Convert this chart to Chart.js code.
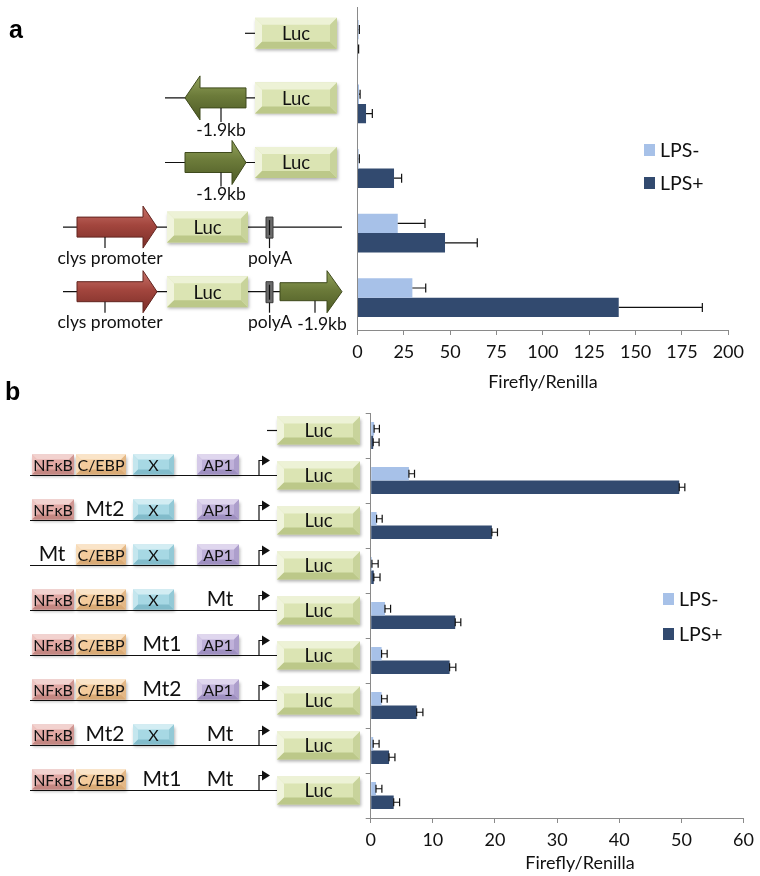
<!DOCTYPE html>
<html lang="en">
<head>
<meta charset="UTF-8">
<title>Luciferase reporter constructs</title>
<script src="https://cdn.jsdelivr.net/npm/chart.js"></script>
<style>
  html, body { margin: 0; padding: 0; background: #fff; }
  body { width: 760px; height: 876px; position: relative; overflow: hidden; }
  .panel { position: absolute; left: 0; width: 760px; }
  #panelA { top: 0; height: 395px; }
  #panelB { top: 395px; height: 481px; }
  .letter { position: absolute; z-index: 2; line-height: 1; font: bold 25px 'Liberation Sans', Arial, sans-serif; }
</style>
</head>
<body>
<div class="letter" style="left:9px;top:15px">a</div>
<div class="letter" style="left:5px;top:377px">b</div>
<div id="panelA" class="panel"><canvas id="chartA"></canvas></div>
<div id="panelB" class="panel"><canvas id="chartB"></canvas></div>

<script>
// ---- panel a data ----
const constructsA = ['Luc', '-1.9kb (reverse) Luc', '-1.9kb Luc', 'clys promoter Luc polyA', 'clys promoter Luc polyA -1.9kb'];
const lpsMinusA    = [0.6, 0.8, 0.6, 21.7, 29.6];
const lpsMinusErrA = [0.4, 0.6, 0.4, 14.7, 7.2];
const lpsPlusA     = [0.3, 4.6, 19.7, 47.2, 140.9];
const lpsPlusErrA  = [0.3, 3.4, 4.1, 17.4, 45.1];
const ticksA = [0, 25, 50, 75, 100, 125, 150, 175, 200];

// ---- panel b data ----
const constructsB = ['Luc', 'NFκB C/EBP X AP1', 'NFκB Mt2 X AP1', 'Mt C/EBP X AP1', 'NFκB C/EBP X Mt',
                     'NFκB C/EBP Mt1 AP1', 'NFκB C/EBP Mt2 AP1', 'NFκB Mt2 X Mt', 'NFκB C/EBP Mt1 Mt'];
const lpsMinusB    = [0.55, 6.15, 0.95, 0.2, 2.3, 1.75, 1.75, 0.4, 0.85];
const lpsMinusErrB = [0.85, 0.9, 0.9, 1.0, 0.9, 0.9, 0.9, 0.95, 0.95];
const lpsPlusB     = [0.4, 49.65, 19.5, 0.5, 13.6, 12.7, 7.4, 2.95, 3.7];
const lpsPlusErrB  = [0.95, 0.9, 0.9, 1.0, 0.9, 1.0, 1.0, 0.95, 0.95];
const ticksB = [0, 10, 20, 30, 40, 50, 60];

const LIGHT = '#a7c1e8', DARK = '#324a6f';
const FONT = 'Lato, "Open Sans", sans-serif';

// ---- drawing helpers for the construct diagrams ----
function poly(ctx, pts, fill, stroke) {
  ctx.beginPath();
  pts.forEach(([px, py], k) => k ? ctx.lineTo(px, py) : ctx.moveTo(px, py));
  ctx.closePath();
  if (fill) { ctx.fillStyle = fill; ctx.fill(); }
  if (stroke) { ctx.strokeStyle = stroke; ctx.lineWidth = 1; ctx.stroke(); }
}

function bevelBox(ctx, x, y, w, h, c, b) {
  ctx.save();
  ctx.shadowColor = 'rgba(0,0,0,0.3)';
  ctx.shadowBlur = 3; ctx.shadowOffsetX = 1; ctx.shadowOffsetY = 2;
  ctx.fillStyle = c.base;
  ctx.fillRect(x, y, w, h);
  ctx.restore();
  poly(ctx, [[x, y], [x + w, y], [x + w - b, y + b], [x + b, y + b]], c.top);
  poly(ctx, [[x, y], [x + b, y + b], [x + b, y + h - b], [x, y + h]], c.left);
  poly(ctx, [[x, y + h], [x + b, y + h - b], [x + w - b, y + h - b], [x + w, y + h]], c.bottom);
  poly(ctx, [[x + w, y], [x + w, y + h], [x + w - b, y + h - b], [x + w - b, y + b]], c.right);
}

function text(ctx, t, x, y, size, align) {
  ctx.fillStyle = '#111';
  ctx.font = size + 'px ' + FONT;
  ctx.textAlign = align || 'center';
  ctx.textBaseline = 'middle';
  ctx.fillText(t, x, y);
}

function hline(ctx, x0, x1, y) {
  ctx.strokeStyle = '#111'; ctx.lineWidth = 1.2;
  ctx.beginPath(); ctx.moveTo(x0, y); ctx.lineTo(x1, y); ctx.stroke();
}

function vline(ctx, x, y0, y1) {
  ctx.strokeStyle = '#111'; ctx.lineWidth = 1.2;
  ctx.beginPath(); ctx.moveTo(x, y0); ctx.lineTo(x, y1); ctx.stroke();
}

// block arrow: tail at x0, tip at x1 (works both directions)
function blockArrow(ctx, x0, x1, cy, body, head, headLen, cols) {
  const d = x1 > x0 ? 1 : -1, hb = x1 - d * headLen;
  const g = ctx.createLinearGradient(0, cy - head, 0, cy + head);
  g.addColorStop(0, cols[0]); g.addColorStop(0.45, cols[1]); g.addColorStop(1, cols[2]);
  poly(ctx, [[x0, cy - body], [hb, cy - body], [hb, cy - head], [x1, cy], [hb, cy + head], [hb, cy + body], [x0, cy + body]], g, cols[3]);
}

const LUC = { base: '#dbe4b3', top: '#edf2d6', left: '#f0f4dc', bottom: '#bcc889', right: '#c8d39b' };
const RED = ['#c8736a', '#a3463e', '#7a2d27', '#62241f'];
const GREEN = ['#93a35c', '#6c7b3a', '#4d5a25', '#3f4a1d'];
const ELEMENTS = {
  'NFκB':  { base: '#e2a9a5', top: '#f2d2cf', left: '#eec4c1', bottom: '#c48782', right: '#cf9692' },
  'C/EBP': { base: '#f3cb9c', top: '#fae4c8', left: '#f8dcb8', bottom: '#d9aa75', right: '#e4b886' },
  'X':     { base: '#a7d8e4', top: '#d3edf3', left: '#c4e6ee', bottom: '#82bccb', right: '#93c9d6' },
  'AP1':   { base: '#c0b2da', top: '#dfd6ee', left: '#d5cae8', bottom: '#9e8fc0', right: '#ad9fcc' }
};

function lucBox(ctx, x, cy, w, h) {
  bevelBox(ctx, x, cy - h / 2, w, h, LUC, 7);
  text(ctx, 'Luc', x + w / 2, cy + 1, 18.5);
}

function polyA(ctx, x, cy) {
  poly(ctx, [[x, cy - 10], [x + 7, cy - 10], [x + 7, cy + 11], [x, cy + 11]], '#6b6b6b', '#3a3a3a');
  vline(ctx, x + 3.5, cy - 7, cy + 8);
}

// ---- plugins ----
const errorBars = {
  id: 'errorBars',
  afterDatasetsDraw(chart, args, opts) {
    const ctx = chart.ctx, xs = chart.scales.x;
    chart.data.datasets.forEach((ds, di) => {
      const meta = chart.getDatasetMeta(di);
      meta.data.forEach((bar, i) => {
        const x0 = xs.getPixelForValue(ds.data[i]);
        const x1 = xs.getPixelForValue(ds.data[i] + ds.errors[i]);
        ctx.save();
        ctx.strokeStyle = '#111'; ctx.lineWidth = 1.2;
        ctx.beginPath();
        ctx.moveTo(x0, bar.y); ctx.lineTo(x1, bar.y);
        ctx.moveTo(x1, bar.y - opts.cap); ctx.lineTo(x1, bar.y + opts.cap);
        if (opts.startCap) { ctx.moveTo(x0, bar.y - opts.cap); ctx.lineTo(x0, bar.y + opts.cap); }
        ctx.stroke();
        ctx.restore();
      });
    });
  }
};

const sideLegend = {
  id: 'sideLegend',
  afterDraw(chart, args, opts) {
    const ctx = chart.ctx;
    chart.data.datasets.forEach((ds, di) => {
      const y = opts.y + di * opts.gap;
      ctx.fillStyle = ds.backgroundColor;
      ctx.fillRect(opts.x, y - 6, 11, 12);
      text(ctx, ds.label, opts.x + 16, y + 1, 19.5, 'left');
    });
    if (opts.title) text(ctx, opts.title.text, opts.title.x, opts.title.y, 18);
  }
};

const diagramA = {
  id: 'diagramA',
  afterDraw(chart) {
    const ctx = chart.ctx, ys = chart.scales.y;
    constructsA.forEach((name, i) => {
      const cy = ys.getPixelForValue(i) - 6;
      ctx.save();
      if (i === 0) {
        hline(ctx, 245, 255, cy);
        lucBox(ctx, 255, cy, 82, 31);
      } else if (i === 1 || i === 2) {
        hline(ctx, 165, 255, cy);
        if (i === 1) blockArrow(ctx, 246, 185, cy, 10, 22, 15, GREEN);
        else blockArrow(ctx, 185, 246, cy, 10, 22, 14, GREEN);
        vline(ctx, 221, cy + 10, cy + 24);
        text(ctx, '-1.9kb', 221, cy + 32, 17.5);
        lucBox(ctx, 255, cy, 82, 31);
      } else {
        hline(ctx, 63, i === 3 ? 342 : 280, cy);
        blockArrow(ctx, 77, 157, cy, 10, 21, 14, RED);
        vline(ctx, 105, cy + 10, cy + 21);
        text(ctx, 'clys promoter', 110, cy + 31, 17.5);
        lucBox(ctx, 167, cy, 81, 31);
        polyA(ctx, 266, cy);
        vline(ctx, 269.5, cy + 11, cy + 21);
        text(ctx, 'polyA', 270, cy + 31, 17.5);
        if (i === 4) {
          blockArrow(ctx, 280, 342, cy, 9, 21, 15, GREEN);
          vline(ctx, 315, cy + 9, cy + 21);
          text(ctx, '-1.9kb', 322, cy + 33, 17.5);
        }
      }
      ctx.restore();
    });
  }
};

const SLOTS = [[32, 42], [76, 50], [133, 41], [197, 42]];
const MT_X = [52, 105, 162, 220];

const diagramB = {
  id: 'diagramB',
  afterDraw(chart) {
    const ctx = chart.ctx, ys = chart.scales.y;
    constructsB.forEach((name, i) => {
      const cy = ys.getPixelForValue(i) - 5;
      ctx.save();
      if (name === 'Luc') {
        hline(ctx, 267, 277, cy);
      } else {
        hline(ctx, 30, 277, cy);
        name.split(' ').forEach((part, k) => {
          const [sx, sw] = SLOTS[k];
          if (ELEMENTS[part]) {
            bevelBox(ctx, sx, cy - 21, sw, 20, ELEMENTS[part], 5);
            text(ctx, part, sx + sw / 2, cy - 10, 16);
          } else {
            text(ctx, part, MT_X[k], cy - 11, 21);
          }
        });
        // transcription start flag
        ctx.strokeStyle = '#111'; ctx.lineWidth = 1.2;
        ctx.beginPath(); ctx.moveTo(259, cy); ctx.lineTo(259, cy - 15); ctx.lineTo(263, cy - 15); ctx.stroke();
        poly(ctx, [[262, cy - 20], [270, cy - 15], [262, cy - 10]], '#111');
      }
      lucBox(ctx, 277, cy, 83, 28);
      ctx.restore();
    });
  }
};

function scaleOptions(ticks, max, yWidth, xHeight, tickPad, yTicks, title) {
  return {
    x: {
      type: 'linear', min: 0, max: max,
      afterBuildTicks: s => { s.ticks = ticks.map(v => ({ value: v })); },
      afterFit: s => { s.height = xHeight; },
      grid: { drawOnChartArea: false, drawTicks: true, tickLength: 5, color: '#8a8a8a' },
      border: { color: '#8a8a8a' },
      ticks: { color: '#111', font: { family: FONT, size: 18 }, padding: tickPad },
      title: { display: !!title, text: title, color: '#111', font: { family: FONT, size: 18 }, padding: { top: 0, bottom: 2 } }
    },
    y: {
      afterFit: s => { s.width = yWidth; },
      grid: { drawOnChartArea: false, drawTicks: yTicks, tickLength: 5, color: '#8a8a8a' },
      border: { color: '#8a8a8a' },
      ticks: { display: false }
    }
  };
}

new Chart(document.getElementById('chartA'), {
  type: 'bar',
  data: {
    labels: constructsA,
    datasets: [
      { label: 'LPS-', data: lpsMinusA, errors: lpsMinusErrA, backgroundColor: LIGHT },
      { label: 'LPS+', data: lpsPlusA, errors: lpsPlusErrA, backgroundColor: DARK }
    ]
  },
  options: {
    indexAxis: 'y',
    responsive: true,
    maintainAspectRatio: false,
    animation: false,
    datasets: { bar: { categoryPercentage: 0.6, barPercentage: 1.0 } },
    layout: { padding: { top: 7, right: 31.7, left: 0, bottom: 0 } },
    scales: scaleOptions(ticksA, 200, 357.5, 65, 6, false, 'Firefly/Renilla'),
    plugins: {
      legend: { display: false },
      tooltip: { enabled: false },
      errorBars: { cap: 4.5, startCap: false },
      sideLegend: { x: 644, y: 150, gap: 33 }
    }
  },
  plugins: [errorBars, sideLegend, diagramA]
});

new Chart(document.getElementById('chartB'), {
  type: 'bar',
  data: {
    labels: constructsB,
    datasets: [
      { label: 'LPS-', data: lpsMinusB, errors: lpsMinusErrB, backgroundColor: LIGHT },
      { label: 'LPS+', data: lpsPlusB, errors: lpsPlusErrB, backgroundColor: DARK }
    ]
  },
  options: {
    indexAxis: 'y',
    responsive: true,
    maintainAspectRatio: false,
    animation: false,
    datasets: { bar: { categoryPercentage: 0.6, barPercentage: 1.0 } },
    layout: { padding: { top: 18, right: 12.3, left: 0, bottom: 0 } },
    scales: scaleOptions(ticksB, 60, 370.7, 58, 6, true, ''),
    plugins: {
      legend: { display: false },
      tooltip: { enabled: false },
      errorBars: { cap: 4, startCap: true },
      sideLegend: { x: 663, y: 204, gap: 35, title: { text: 'Firefly/Renilla', x: 580, y: 468 } }
    }
  },
  plugins: [errorBars, sideLegend, diagramB]
});
</script>
</body>
</html>
